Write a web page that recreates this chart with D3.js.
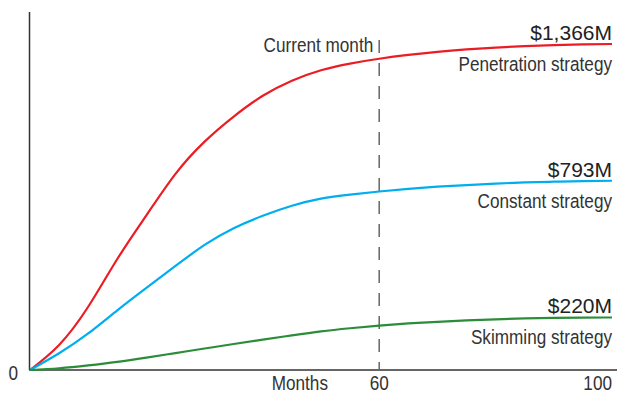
<!DOCTYPE html>
<html>
<head>
<meta charset="utf-8">
<script src="https://cdn.jsdelivr.net/npm/d3@7"></script>
<style>
  body { margin: 0; background: #fff; }
  svg { display: block; }
  .narrow { font-family: "Liberation Sans", Arial, sans-serif; fill: #333; }
  .amount { font-family: "Liberation Sans", Arial, sans-serif; fill: #222; }
</style>
</head>
<body>
<svg width="617" height="395"></svg>
<script>
// months sampled every 5
const months = d3.range(0, 101, 5);

// revenue in $M
const penetration = [0, 105, 265, 465, 648, 822, 957, 1062, 1149, 1212, 1256, 1284, 1304, 1320, 1333, 1343, 1351, 1357, 1361, 1364, 1366];
const constant    = [0, 70, 153, 250, 344, 436, 524, 594, 646, 688, 718, 735, 748, 759, 768, 775, 781, 786, 789, 791.5, 793];
const skimming    = [0, 7, 19, 34, 52, 71, 90, 109, 127, 145, 162, 175, 186, 195, 202, 208, 212.5, 216, 218.5, 219.5, 220];

const seriesNames = ['Penetration strategy', 'Constant strategy', 'Skimming strategy'];
const amountLabels = ['$1,366M', '$793M', '$220M'];
const colors = ['#ec1c24', '#00aeef', '#2b8c3a'];
const xTicks = [60, 100];
const currentMonth = 60;

const svg = d3.select('svg');

const x = d3.scaleLinear().domain([0, 100]).range([30, 612]);
const y = d3.scaleLinear().domain([0, 1500]).range([370, 12]);

const allSeries = [penetration, constant, skimming];

// condensed look: squeeze the text horizontally
function narrowText(px, py, str, anchor) {
  svg.append('g')
    .attr('transform', `translate(${px},${py}) scale(0.88,1)`)
    .append('text')
    .attr('class', 'narrow')
    .attr('text-anchor', anchor)
    .style('font-size', '19.5px')
    .text(str);
}

// axes
svg.append('line')
  .attr('x1', 29.5).attr('x2', 29.5)
  .attr('y1', y(1500)).attr('y2', y(0))
  .attr('stroke', '#333').attr('stroke-width', 1.5);

svg.append('line')
  .attr('x1', 29).attr('x2', 617)
  .attr('y1', y(0)).attr('y2', y(0))
  .attr('stroke', '#333').attr('stroke-width', 1.5);

// current month marker
svg.append('line')
  .attr('x1', x(currentMonth)).attr('x2', x(currentMonth))
  .attr('y1', 40).attr('y2', y(0))
  .attr('stroke', '#666').attr('stroke-width', 1.5)
  .attr('stroke-dasharray', '13,10');

narrowText(x(currentMonth) - 6, 52, 'Current month', 'end');

// lines
const line = d3.line()
  .x((d, i) => x(months[i]))
  .y(d => y(d))
  .curve(d3.curveNatural);

svg.selectAll('path.series')
  .data(allSeries)
  .enter().append('path')
  .attr('class', 'series')
  .attr('d', line)
  .attr('fill', 'none')
  .attr('stroke', (d, i) => colors[i])
  .attr('stroke-width', 2.2);

// labels at the end of each line
svg.selectAll('text.amount')
  .data(allSeries)
  .enter().append('text')
  .attr('class', 'amount')
  .attr('x', 612)
  .attr('y', d => y(d[d.length - 1]) - 4)
  .attr('text-anchor', 'end')
  .style('font-size', '21px')
  .text((d, i) => amountLabels[i]);

allSeries.forEach((d, i) => {
  narrowText(612, y(d[d.length - 1]) + 27, seriesNames[i], 'end');
});

// x tick labels
xTicks.forEach(t => {
  narrowText(x(t), 390, t, t === 100 ? 'end' : 'middle');
});

narrowText(328, 390, 'Months', 'end');
narrowText(18, 380, '0', 'end');
</script>
</body>
</html>
